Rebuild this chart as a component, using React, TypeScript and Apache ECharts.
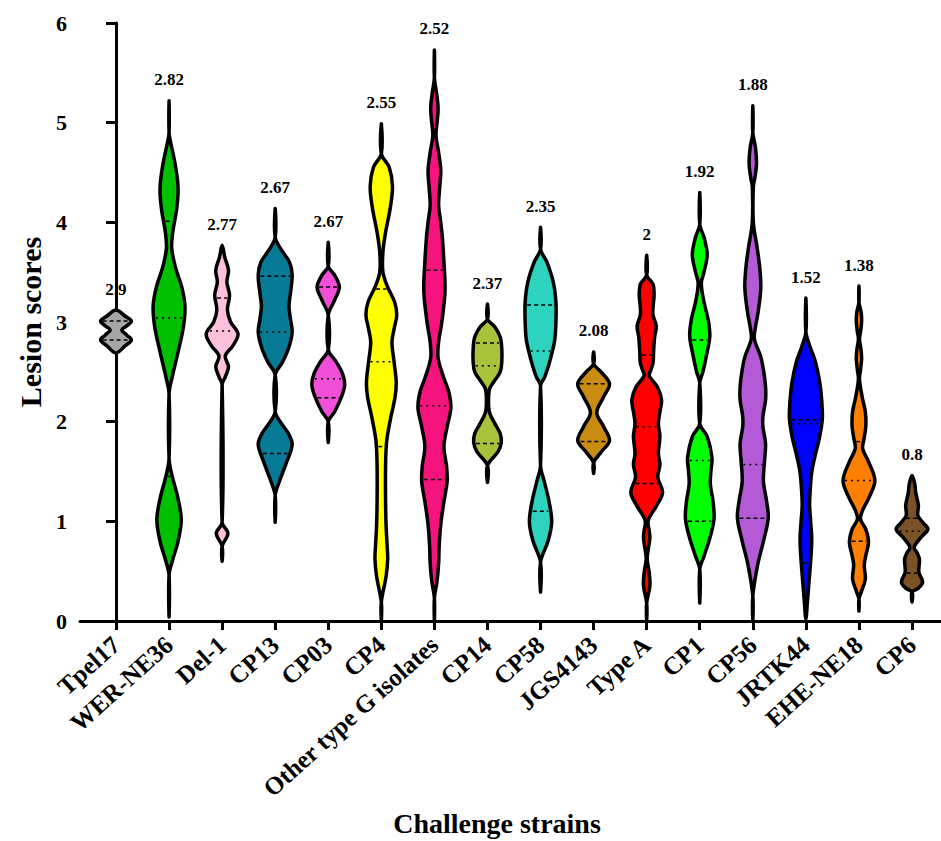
import React, { useEffect, useRef } from "react";
import * as echarts from "echarts";

const categories = [
  "Tpel17", "WER-NE36", "Del-1", "CP13", "CP03", "CP4", "Other type G isolates", "CP14",
  "CP58", "JGS4143", "Type A", "CP1", "CP56", "JRTK44", "EHE-NE18", "CP6",
];
const meanLabels = [2.9, 2.82, 2.77, 2.67, 2.67, 2.55, 2.52, 2.37, 2.35, 2.08, 2, 1.92, 1.88, 1.52, 1.38, 0.8];
const fillColors = [
  "#a6a6a6", "#00c000", "#ffc0dc", "#077a96", "#f050d8", "#ffff00", "#f5147d", "#a9c23c",
  "#2dd3bf", "#c98c10", "#ff0000", "#00ff00", "#b55ad6", "#0000ff", "#ff8000", "#7b5226",
];
const upperQuartiles = [3.01, 4.01, 3.24, 3.46, 3.35, 3.33, 3.52, 2.79, 3.17, 2.38, 2.67, 2.82, null, 2.02, 1.8, 1.03];
const medians = [null, 3.04, 2.91, 2.9, 2.43, 2.6, 2.16, 2.56, 2.71, null, 1.95, 1.61, 1.57, 1.98, 1.41, 0.9];
const lowerQuartiles = [2.82, 1.45, null, 1.68, 2.24, 1.75, 1.42, 1.78, 1.1, 1.8, 1.38, 1.0, 1.03, 0.58, 0.8, 0.48];
const yTicks = [0, 1, 2, 3, 4, 5, 6];

// violin profiles: [score, half width in category units], top to bottom
const tpel17Profile = [[3.12, 0], [3.06, 0.17], [3.01, 0.29], [2.96, 0.2], [2.92, 0.11], [2.87, 0.2], [2.82, 0.29], [2.76, 0.17], [2.69, 0]];
const werNe36Profile = [[5.22, 0], [4.9, 0], [4.8, 0.03], [4.6, 0.11], [4.42, 0.16], [4.29, 0.17], [4.12, 0.14], [3.9, 0.07], [3.74, 0.05], [3.55, 0.12], [3.35, 0.24], [3.16, 0.3], [2.95, 0.27], [2.7, 0.17], [2.45, 0.06], [2.28, 0], [1.63, 0], [1.45, 0.06], [1.25, 0.16], [1.02, 0.23], [0.8, 0.17], [0.6, 0.06], [0.46, 0], [0.04, 0]];
const del1Profile = [[3.77, 0], [3.65, 0.05], [3.52, 0.12], [3.4, 0.09], [3.27, 0.14], [3.12, 0.1], [3.0, 0.16], [2.88, 0.3], [2.76, 0.2], [2.66, 0.06], [2.55, 0.12], [2.45, 0.06], [2.37, 0], [0.99, 0], [0.88, 0.11], [0.75, 0], [0.6, 0]];
const cp13Profile = [[4.14, 0], [3.85, 0], [3.72, 0.12], [3.6, 0.27], [3.47, 0.32], [3.3, 0.29], [3.16, 0.26], [3.02, 0.29], [2.9, 0.32], [2.75, 0.26], [2.6, 0.14], [2.47, 0], [2.1, 0], [1.98, 0.12], [1.88, 0.25], [1.77, 0.32], [1.6, 0.22], [1.4, 0.08], [1.26, 0], [0.99, 0]];
const cp03Profile = [[3.8, 0], [3.56, 0], [3.47, 0.12], [3.35, 0.21], [3.22, 0.12], [3.07, 0], [2.72, 0], [2.6, 0.15], [2.48, 0.27], [2.37, 0.31], [2.25, 0.25], [2.1, 0.12], [2.0, 0], [1.79, 0]];
const cp4Profile = [[4.99, 0], [4.69, 0], [4.55, 0.15], [4.36, 0.21], [4.15, 0.17], [3.9, 0.08], [3.7, 0.03], [3.5, 0.03], [3.35, 0.12], [3.2, 0.25], [3.07, 0.29], [2.93, 0.24], [2.8, 0.2], [2.6, 0.24], [2.4, 0.28], [2.25, 0.26], [2.02, 0.17], [1.8, 0.1], [1.55, 0.08], [1.2, 0.08], [0.95, 0.09], [0.75, 0.11], [0.62, 0.12], [0.45, 0.09], [0.19, 0], [0, 0]];
const otherGProfile = [[5.73, 0], [5.45, 0], [5.3, 0.04], [5.14, 0.07], [5.0, 0.05], [4.87, 0.03], [4.7, 0.08], [4.52, 0.12], [4.35, 0.1], [4.17, 0.08], [4.0, 0.12], [3.85, 0.15], [3.6, 0.18], [3.31, 0.2], [3.0, 0.14], [2.8, 0.08], [2.64, 0.07], [2.45, 0.17], [2.3, 0.27], [2.14, 0.31], [1.95, 0.24], [1.75, 0.18], [1.55, 0.23], [1.4, 0.24], [1.2, 0.18], [0.97, 0.12], [0.75, 0.09], [0.58, 0.08], [0.4, 0.05], [0.23, 0], [0, 0]];
const cp14Profile = [[3.18, 0], [3.03, 0], [2.95, 0.14], [2.85, 0.24], [2.73, 0.27], [2.6, 0.27], [2.5, 0.24], [2.4, 0.12], [2.33, 0.04], [2.2, 0.02], [2.09, 0.04], [1.98, 0.14], [1.88, 0.24], [1.79, 0.26], [1.7, 0.2], [1.56, 0], [1.39, 0]];
const cp58Profile = [[3.95, 0], [3.73, 0], [3.6, 0.12], [3.4, 0.24], [3.2, 0.29], [3.0, 0.29], [2.83, 0.27], [2.7, 0.22], [2.56, 0.15], [2.45, 0.08], [2.36, 0], [1.56, 0], [1.4, 0.07], [1.2, 0.16], [0.99, 0.21], [0.8, 0.14], [0.59, 0], [0.29, 0]];
const jgs4143Profile = [[2.7, 0], [2.58, 0], [2.5, 0.14], [2.38, 0.3], [2.25, 0.19], [2.09, 0.06], [1.95, 0.19], [1.81, 0.3], [1.7, 0.15], [1.59, 0], [1.48, 0]];
const typeAProfile = [[3.67, 0], [3.47, 0], [3.38, 0.12], [3.27, 0.14], [3.15, 0.12], [3.07, 0.12], [2.96, 0.18], [2.85, 0.15], [2.7, 0.13], [2.59, 0.12], [2.52, 0.08], [2.46, 0.05], [2.35, 0.2], [2.22, 0.28], [2.1, 0.25], [1.98, 0.22], [1.85, 0.25], [1.68, 0.22], [1.57, 0.25], [1.44, 0.21], [1.29, 0.3], [1.15, 0.18], [1.01, 0.03], [0.9, 0.05], [0.83, 0.06], [0.72, 0.03], [0.62, 0.01], [0.48, 0.05], [0.35, 0.06], [0.18, 0], [0, 0]];
const cp1Profile = [[4.3, 0], [3.98, 0], [3.85, 0.08], [3.68, 0.14], [3.5, 0.08], [3.39, 0.03], [3.2, 0.08], [3.02, 0.16], [2.86, 0.19], [2.7, 0.14], [2.5, 0.06], [2.39, 0], [1.98, 0], [1.85, 0.14], [1.64, 0.23], [1.5, 0.21], [1.37, 0.2], [1.2, 0.25], [1.03, 0.27], [0.85, 0.2], [0.65, 0.08], [0.52, 0], [0.18, 0]];
const cp56Profile = [[5.17, 0], [4.9, 0], [4.75, 0.05], [4.59, 0.07], [4.45, 0.04], [4.36, 0.01], [4.0, 0.01], [3.75, 0.08], [3.55, 0.13], [3.34, 0.15], [3.1, 0.1], [2.95, 0.05], [2.83, 0.03], [2.65, 0.15], [2.52, 0.2], [2.35, 0.24], [2.22, 0.24], [2.05, 0.19], [1.95, 0.19], [1.78, 0.24], [1.6, 0.22], [1.4, 0.2], [1.2, 0.26], [1.03, 0.29], [0.8, 0.2], [0.56, 0.09], [0.25, 0], [0, 0]];
const jrtk44Profile = [[3.24, 0], [2.9, 0], [2.75, 0.08], [2.6, 0.18], [2.4, 0.26], [2.2, 0.3], [2.03, 0.31], [1.85, 0.26], [1.65, 0.17], [1.49, 0.11], [1.3, 0.08], [1.16, 0.07], [1.0, 0.09], [0.82, 0.11], [0.6, 0.09], [0.4, 0.06], [0.2, 0.03], [0.02, 0]];
const eheNe18Profile = [[3.36, 0], [3.2, 0], [3.1, 0.04], [3.01, 0.05], [2.9, 0.03], [2.83, 0.01], [2.72, 0.04], [2.63, 0.05], [2.52, 0.03], [2.43, 0.01], [2.25, 0.06], [2.1, 0.12], [1.96, 0.13], [1.84, 0.1], [1.73, 0.07], [1.6, 0.18], [1.41, 0.3], [1.25, 0.2], [1.1, 0.06], [1.02, 0.03], [0.92, 0.13], [0.79, 0.18], [0.66, 0.13], [0.56, 0.1], [0.42, 0.12], [0.3, 0.05], [0.22, 0], [0.1, 0]];
const cp6Profile = [[1.46, 0], [1.38, 0.05], [1.29, 0.07], [1.16, 0.12], [1.06, 0.11], [0.99, 0.2], [0.92, 0.3], [0.84, 0.17], [0.74, 0.04], [0.68, 0.1], [0.62, 0.14], [0.49, 0.13], [0.39, 0.2], [0.33, 0.12], [0.29, 0], [0.19, 0]];

const profiles = [
  tpel17Profile, werNe36Profile, del1Profile, cp13Profile, cp03Profile, cp4Profile, otherGProfile, cp14Profile,
  cp58Profile, jgs4143Profile, typeAProfile, cp1Profile, cp56Profile, jrtk44Profile, eheNe18Profile, cp6Profile,
];

const FONT = "'Liberation Serif', 'Times New Roman', serif";

function widthAt(prof: number[][], v: number): number {
  for (let k = 0; k < prof.length - 1; k++) {
    const [v0, w0] = prof[k];
    const [v1, w1] = prof[k + 1];
    if (v <= v0 && v >= v1) {
      const t = v0 === v1 ? 0 : (v0 - v) / (v0 - v1);
      return w0 + (w1 - w0) * t;
    }
  }
  return 0;
}

export default function App() {
  const ref = useRef<HTMLDivElement>(null);

  useEffect(() => {
    document.body.style.margin = "0";
    const chart = echarts.init(ref.current!, null, { renderer: "svg" });

    const renderItem = (_params: any, api: any) => {
      const i = api.value(0) as number;
      const prof = profiles[i];
      const right = prof.map(([v, w]) => api.coord([i + w, v]));
      const left: number[][] = [];
      for (let k = prof.length - 2; k >= 1; k--) left.push(api.coord([i - prof[k][1], prof[k][0]]));
      const children: any[] = [
        {
          type: "polygon",
          shape: { points: right.concat(left), smooth: 0.35 },
          style: { fill: fillColors[i], stroke: "#000", lineWidth: 3.5, lineJoin: "round" },
        },
      ];
      const addLine = (val: number | null, dash: number[]) => {
        if (val == null) return;
        const w = widthAt(prof, val);
        const a = api.coord([i - w, val]);
        const b = api.coord([i + w, val]);
        const inset = 2;
        if (b[0] - a[0] <= inset * 2 + 1) return;
        children.push({
          type: "line",
          shape: { x1: a[0] + inset, y1: a[1], x2: b[0] - inset, y2: b[1] },
          style: { stroke: "#000", lineWidth: 1.5, lineDash: dash },
        });
      };
      addLine(upperQuartiles[i], [4, 3]);
      addLine(medians[i], [2, 4]);
      addLine(lowerQuartiles[i], [4, 3]);
      const top = api.coord([i, prof[0][0]]);
      children.push({
        type: "text",
        x: top[0],
        y: top[1] - 21,
        style: {
          text: String(meanLabels[i]),
          fill: "#000",
          fontSize: 17,
          fontWeight: "bold",
          fontFamily: FONT,
          align: "center",
          verticalAlign: "middle",
        },
      });
      return { type: "group", children };
    };

    const catIdx = categories.map((_, i) => i);

    chart.setOption({
      animation: false,
      backgroundColor: "#fff",
      grid: { left: 80, right: 0, top: 23, bottom: 220, outerBoundsMode: "none", containLabel: false },
      xAxis: {
        type: "value",
        min: -0.678,
        max: 15.546,
        splitLine: { show: false },
        axisLine: { show: true, onZero: false, lineStyle: { color: "#000", width: 3 } },
        axisTick: { show: true, customValues: catIdx, length: 9, lineStyle: { color: "#000", width: 3 } },
        axisLabel: {
          customValues: catIdx,
          formatter: (v: number) => categories[Math.round(v)] ?? "",
          rotate: 42,
          margin: 20,
          color: "#000",
          fontSize: 25,
          fontWeight: "bold",
          fontFamily: FONT,
        },
      },
      yAxis: {
        type: "value",
        min: 0,
        max: 6,
        interval: 1,
        splitLine: { show: false },
        axisLine: { show: true, lineStyle: { color: "#000", width: 3 } },
        axisTick: { show: true, length: 10, lineStyle: { color: "#000", width: 3 } },
        axisLabel: {
          margin: 13,
          color: "#000",
          fontSize: 22,
          fontWeight: "bold",
          fontFamily: FONT,
          formatter: (v: number) => (yTicks.includes(v) ? String(v) : ""),
        },
        name: "Lesion scores",
        nameLocation: "middle",
        nameGap: 34,
        nameTextStyle: { color: "#000", fontSize: 30, fontWeight: "bold", fontFamily: FONT },
      },
      graphic: [
        {
          type: "text",
          x: 497,
          y: 823,
          style: {
            text: "Challenge strains",
            fill: "#000",
            fontSize: 28,
            fontWeight: "bold",
            fontFamily: FONT,
            align: "center",
            verticalAlign: "middle",
          },
        },
      ],
      series: [
        {
          type: "custom",
          renderItem,
          encode: { x: 0, y: 1 },
          data: categories.map((_, i) => [i, meanLabels[i]]),
          silent: true,
        },
      ],
    });

    return () => chart.dispose();
  }, []);

  return <div ref={ref} style={{ position: "absolute", left: 0, top: 0, width: 941, height: 841 }} />;
}
